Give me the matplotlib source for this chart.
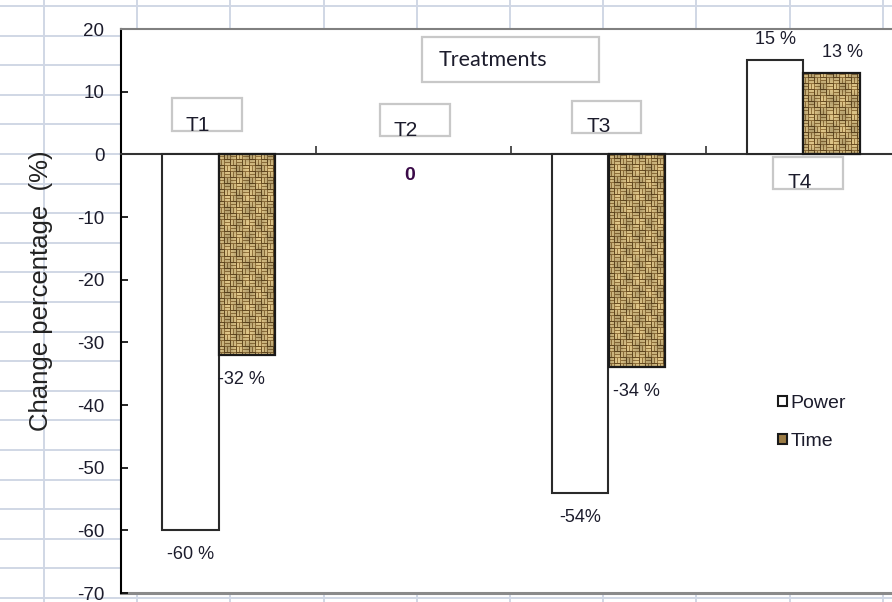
import numpy as np
import matplotlib
matplotlib.use('Agg')
import matplotlib.pyplot as plt
from matplotlib import font_manager
from matplotlib.lines import Line2D
from matplotlib.patches import Patch, Rectangle

# Change in power and time for each treatment (%)
treatments = ['T1', 'T2', 'T3', 'T4']
power = [-60, 0, -54, 15]
time = [-32, 0, -34, 13]
power_labels = ['-60 %', '', '-54%', '15 %']
time_labels = ['-32 %', '', '-34 %', '13 %']
zero_label = '0'

yticks = list(range(20, -80, -10))


def pick_font(names):
    for name in names:
        try:
            font_manager.findfont(name, fallback_to_default=False)
            return name
        except Exception:
            continue
    return 'DejaVu Sans'


SANS = pick_font(['Liberation Sans', 'Arial'])
CAL = pick_font(['Lato', 'Open Sans'])
TXT = '#1c1c2c'

W, H = 892, 602


def weave_texture(h, w):
    """Burlap-like basket weave used to fill the Time bars."""
    i = np.arange(h)[:, None]
    j = np.arange(w)[None, :]
    block = ((i // 6) + (j // 6)) % 2
    strand = np.where(block == 0, i % 3 != 2, j % 3 != 2)
    seam = np.where(block == 0, j % 6 == 5, i % 6 == 5)
    base = np.array([0.60, 0.47, 0.25])
    hi = np.array([0.88, 0.78, 0.54])
    lo = np.array([0.42, 0.31, 0.14])
    tex = np.where(strand[..., None], hi, base)
    tex = np.where(seam[..., None], lo, tex)
    mottle = 0.90 + 0.10 * np.sin(i * 0.23 + 1.3) * np.cos(j * 0.31 + 0.4)
    return np.clip(tex * mottle[..., None], 0, 1)


fig = plt.figure(figsize=(W / 100, H / 100), dpi=100)
fig.patch.set_facecolor('white')

# worksheet cell grid behind the chart
for k in range(21):
    y = 1 - (6 + 29.6 * k) / H
    fig.add_artist(Line2D([0, 1], [y, y], transform=fig.transFigure,
                          color='#d0d7e5', lw=1.4, zorder=-5))
for k in range(10):
    x = (44 + 93.2 * k) / W
    fig.add_artist(Line2D([x, x], [0, 1], transform=fig.transFigure,
                          color='#d0d7e5', lw=1.4, zorder=-5))

ax = fig.add_axes([121 / W, 1 - 593 / H, 780 / W, 564 / H])
ax.set_facecolor('white')

x = np.arange(len(treatments))
bw = 0.29
ax.set_xlim(-0.5, len(treatments) - 0.5)
ax.set_ylim(-70, 20)

pbars = ax.bar(x - bw / 2, power, bw, facecolor='white', edgecolor='#2a2a2a',
               linewidth=1.5, zorder=3)
tbars = ax.bar(x + bw / 2, time, bw, facecolor='#a88a52', edgecolor='none',
               linewidth=0, zorder=2)
tedges = ax.bar(x + bw / 2, time, bw, fill=False, edgecolor='#1a1a1a',
                linewidth=1.6, zorder=3)

# texture fill for the Time bars, clipped to each bar
for b in tbars:
    if b.get_height() == 0:
        continue
    x0, y0 = b.get_x(), b.get_y()
    x1, y1 = x0 + b.get_width(), y0 + b.get_height()
    (px0, py0), (px1, py1) = ax.transData.transform([(x0, y0), (x1, y1)])
    tex = weave_texture(max(int(abs(py1 - py0)), 2), max(int(abs(px1 - px0)), 2))
    im = ax.imshow(tex, extent=[x0, x1, min(y0, y1), max(y0, y1)],
                   aspect='auto', interpolation='nearest', zorder=2.5)
    im.set_clip_path(b)
ax.set_xlim(-0.5, len(treatments) - 0.5)
ax.set_ylim(-70, 20)

# zero-height bars (T2) leave no outline
for b in list(pbars) + list(tbars) + list(tedges):
    if b.get_height() == 0:
        b.set_visible(False)

# value labels
label_dx = [[0, 0, 0, 0], [-4, 0, 0, 8]]
for bars, vals, labs, dxs in [(pbars, power, power_labels, label_dx[0]),
                              (tbars, time, time_labels, label_dx[1])]:
    for b, v, lab, dx in zip(bars, vals, labs, dxs):
        if not lab:
            continue
        cx = b.get_x() + b.get_width() / 2
        dy = 15 if v > 0 else -17.5
        ax.annotate(lab, xy=(cx, v), xytext=(dx, dy), textcoords='offset points',
                    ha='center', va='center', fontsize=13, family=SANS,
                    color=TXT, zorder=5)
ax.annotate(zero_label, xy=(1, 0), xytext=(-3, -15), textcoords='offset points',
            ha='center', va='center', fontsize=14, family=SANS,
            fontweight='bold', color='#3a0a48', zorder=5)

# treatment name boxes: (left, right, bottom, top) and text anchor
boxes = [(-0.238, 0.1205, 3.72, 8.98, -0.167, 3.75),
         (0.828, 1.187, 2.85, 8.02, 0.90, 2.95),
         (1.813, 2.167, 3.4, 8.5, 1.885, 3.55),
         (2.844, 3.203, -5.5, -0.43, 2.92, -5.45)]
for name, (l, r, b, t, tx, ty) in zip(treatments, boxes):
    ax.add_patch(Rectangle((l, b), r - l, t - b, facecolor='white',
                           edgecolor='#c8c8c8', lw=1.6, zorder=4))
    ax.text(tx, ty, name, ha='left', va='baseline', fontsize=15,
            family=SANS, color=TXT, zorder=5)
ax.add_patch(Rectangle((1.044, 11.54), 0.907, 7.18, facecolor='white',
                       edgecolor='#c8c8c8', lw=1.6, zorder=4))
ax.text(1.128, 15.1, 'Treatments', ha='left', va='center', fontsize=15.5,
        family=CAL, color=TXT, zorder=5)

# axes styling
for s in ['top', 'right']:
    ax.spines[s].set_color('#808080')
    ax.spines[s].set_linewidth(1.5)
ax.spines['left'].set_color('black')
ax.spines['left'].set_linewidth(1.5)
ax.spines['bottom'].set_position(('data', 0))
ax.spines['bottom'].set_color('#333333')
ax.spines['bottom'].set_linewidth(1.5)
ax.axhline(-70, color='#8a8a8a', lw=2.2, clip_on=False, zorder=1)

ax.set_xticks(x[:-1] + 0.5)
ax.set_xticklabels([])
ax.tick_params(axis='x', direction='in', length=6, width=1.2, color='#333333')
ax.set_yticks(yticks)
ax.set_yticklabels([str(t) for t in yticks], family=SANS, fontsize=13.5, color=TXT)
ax.tick_params(axis='y', direction='in', length=5, width=1.2, pad=12)

fig.text(41 / W, 1 - 291 / H, 'Change percentage  (%)', rotation=90,
         ha='center', va='center', fontsize=18.5, family=SANS, color='#222222')

handles = [Patch(facecolor='white', edgecolor='#1a1a1a', lw=1.5),
           Patch(facecolor='#9c7c45', edgecolor='#1a1a1a', lw=1.5)]
ax.legend(handles, ['Power', 'Time'], loc='upper left',
          bbox_to_anchor=((770 - 121) / 780, (593 - 387) / 564),
          frameon=False, prop={'family': SANS, 'size': 14},
          handlelength=0.45, handleheight=0.45, handletextpad=0.2,
          labelspacing=1.1, borderaxespad=0)
for t in ax.get_legend().get_texts():
    t.set_color(TXT)

fig.savefig('out.png', dpi=100)
